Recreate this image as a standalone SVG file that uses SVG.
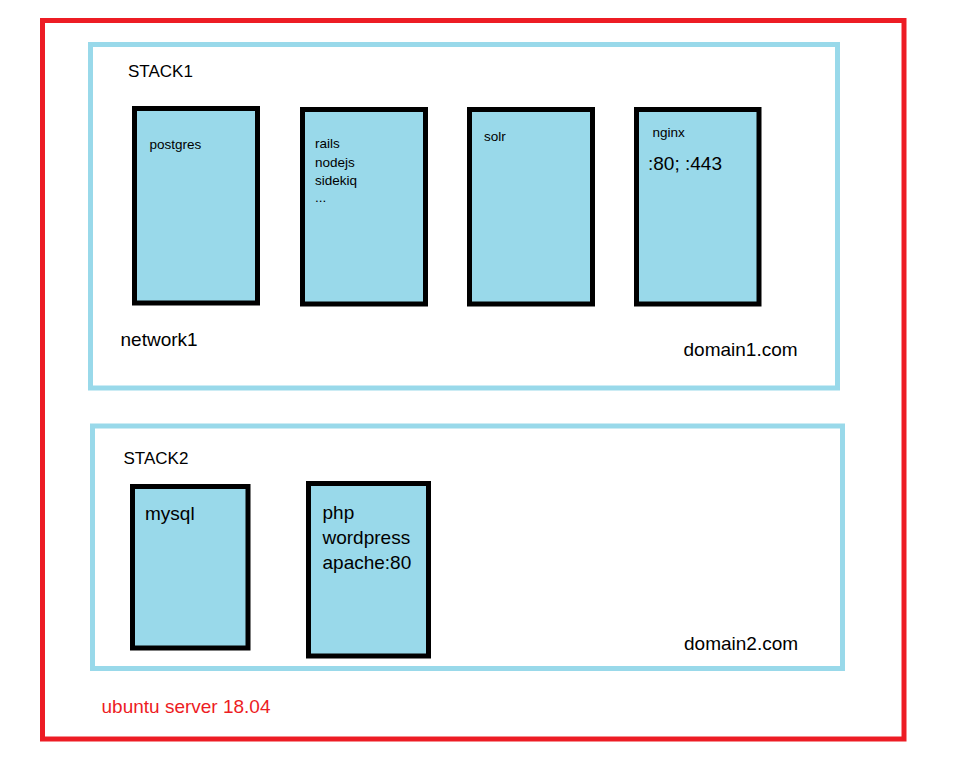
<svg xmlns="http://www.w3.org/2000/svg" width="967" height="778" viewBox="0 0 967 778">
<style>
  text { font-family: "Liberation Sans", Arial, sans-serif; fill: #000; }
  .server { fill: none; stroke: #ED1C24; stroke-width: 5; }
  .stack { fill: #fff; stroke: #99D9EA; stroke-width: 5; }
  .svc { fill: #99D9EA; stroke: #000; stroke-width: 5; }
  .small { font-size: 13.5px; }
  .mid { font-size: 17px; }
  .big { font-size: 19px; }
  .red { fill: #ED1C24; }
</style>
<rect width="967" height="778" fill="#fff"/>
<g id="server">
  <rect class="server" x="42.5" y="20.5" width="861.5" height="718.5"/>
  <text class="big red" x="101.5" y="712.5">ubuntu server 18.04</text>
</g>
<g id="stack1">
  <rect class="stack" x="90.5" y="44.5" width="747" height="343.5"/>
  <text class="mid" x="128" y="77">STACK1</text>
  <text class="big" x="120.5" y="346">network1</text>
  <text class="big" x="683.5" y="356">domain1.com</text>
</g>
<g id="postgres">
  <rect class="svc" x="134.5" y="108.5" width="123" height="194.5"/>
  <text class="small" x="149.5" y="149">postgres</text>
</g>
<g id="rails">
  <rect class="svc" x="302.5" y="109.5" width="123" height="194.5"/>
  <text class="small" x="315" y="148">rails</text>
  <text class="small" x="315" y="166.5">nodejs</text>
  <text class="small" x="315" y="185">sidekiq</text>
  <text class="small" x="315" y="202">...</text>
</g>
<g id="solr">
  <rect class="svc" x="469.5" y="109.5" width="123" height="194.5"/>
  <text class="small" x="484" y="140.5">solr</text>
</g>
<g id="nginx">
  <rect class="svc" x="636.5" y="109.5" width="122.5" height="194.5"/>
  <text class="small" x="652.5" y="137">nginx</text>
  <text class="big" x="648" y="169.5">:80; :443</text>
</g>
<g id="stack2">
  <rect class="stack" x="92.5" y="426" width="750" height="242.5"/>
  <text class="mid" x="123.5" y="463.5">STACK2</text>
  <text class="big" x="684" y="650">domain2.com</text>
</g>
<g id="mysql">
  <rect class="svc" x="132.5" y="486.5" width="115.5" height="161.5"/>
  <text class="big" x="145" y="520">mysql</text>
</g>
<g id="php">
  <rect class="svc" x="308.5" y="483.5" width="120" height="172.5"/>
  <text class="big" x="322.5" y="518.5">php</text>
  <text class="big" x="322.5" y="543.5">wordpress</text>
  <text class="big" x="322.5" y="569">apache:80</text>
</g>
<g id="connectors"></g>
</svg>
